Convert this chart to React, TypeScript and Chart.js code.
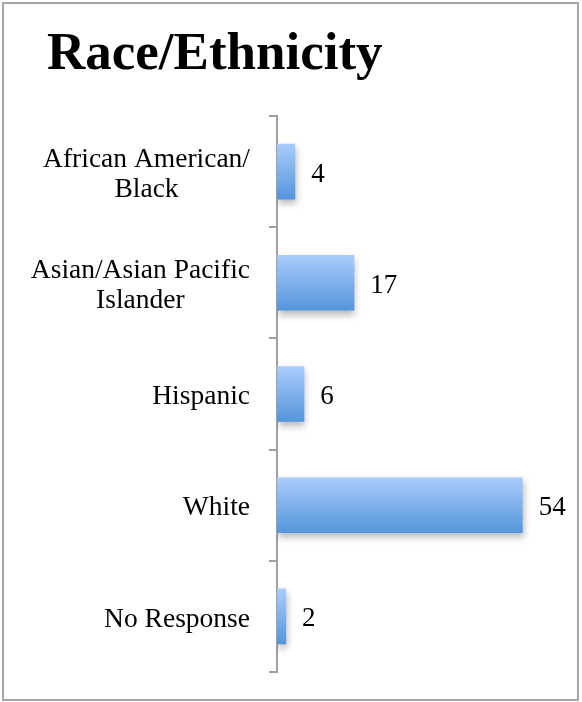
import React, { useEffect, useRef } from "react";
import { Chart, registerables } from "chart.js";

Chart.register(...registerables);

const TITLE = "Race/Ethnicity";
const categories: string[][] = [
  ["African American/", "Black"],
  ["Asian/Asian Pacific", "Islander"],
  ["Hispanic"],
  ["White"],
  ["No Response"],
];
const values = [4, 17, 6, 54, 2];
const X_MAX = 60;

const FONT = "'Liberation Serif', 'DejaVu Serif', serif";

const shadowPlugin = {
  id: "barShadow",
  beforeDatasetsDraw(chart: any) {
    const ctx = chart.ctx;
    ctx.save();
    ctx.shadowColor = "rgba(0,0,0,0.28)";
    ctx.shadowBlur = 7;
    ctx.shadowOffsetX = 1;
    ctx.shadowOffsetY = 4;
  },
  afterDatasetsDraw(chart: any) {
    chart.ctx.restore();
  },
};

const labelsPlugin = {
  id: "customLabels",
  afterDraw(chart: any) {
    const ctx = chart.ctx;
    const y = chart.scales.y;
    const meta = chart.getDatasetMeta(0);
    ctx.save();
    ctx.fillStyle = "#000";
    ctx.font = `27.5px ${FONT}`;
    ctx.textBaseline = "middle";
    const lineH = 30;
    const rightEdge = 250;
    categories.forEach((lines, i) => {
      const cy = y.getPixelForValue(i);
      const w = Math.max(...lines.map((l) => ctx.measureText(l).width));
      const cx = rightEdge - w / 2;
      ctx.textAlign = "center";
      lines.forEach((l, k) => {
        const ly = cy + (k - (lines.length - 1) / 2) * lineH + 3;
        ctx.fillText(l, cx, ly);
      });
    });
    ctx.textAlign = "left";
    ctx.font = `27px ${FONT}`;
    meta.data.forEach((bar: any, i: number) => {
      ctx.fillText(String(values[i]), bar.x + 16, bar.y + 3);
    });
    ctx.restore();
  },
};

export default function App() {
  const ref = useRef<HTMLCanvasElement | null>(null);
  useEffect(() => {
    if (!ref.current) return;
    const chart = new Chart(ref.current, {
      type: "bar",
      data: {
        labels: categories.map((c) => c.join(" ")),
        datasets: [
          {
            data: values,
            borderWidth: 0,
            categoryPercentage: 1,
            barPercentage: 0.5,
            backgroundColor: (context: any) => {
              const ch = context.chart;
              const ys = ch.scales && ch.scales.y;
              if (!ch.chartArea || !ys) return "#7aaee8";
              const cy = ys.getPixelForValue(context.dataIndex);
              const half = ys.getPixelForValue(1) - ys.getPixelForValue(0);
              const h = Math.abs(half) * 0.25;
              const g = ch.ctx.createLinearGradient(0, cy - h, 0, cy + h);
              g.addColorStop(0, "#a9cdfb");
              g.addColorStop(1, "#5595dc");
              return g;
            },
          },
        ],
      },
      options: {
        indexAxis: "y",
        animation: false,
        responsive: false,
        maintainAspectRatio: false,
        layout: { padding: { left: 47, right: 32, top: 0, bottom: 30 } },
        plugins: {
          legend: { display: false },
          tooltip: { enabled: false },
          title: {
            display: true,
            text: TITLE,
            align: "start",
            color: "#000",
            font: { family: FONT, size: 53, weight: "bold", lineHeight: 1.2 },
            padding: { top: 24, bottom: 28.4 },
          },
        },
        scales: {
          x: {
            display: false,
            min: 0,
            max: X_MAX,
          },
          y: {
            afterFit: (scale: any) => {
              scale.width = 277 - 47;
            },
            grid: {
              display: true,
              drawOnChartArea: false,
              drawTicks: true,
              tickLength: 8,
              offset: true,
              color: "#a0a0a0",
              lineWidth: 2,
            },
            border: { display: true, color: "#a0a0a0", width: 2 },
            ticks: { display: false },
          },
        },
      },
      plugins: [shadowPlugin, labelsPlugin],
    } as any);
    return () => chart.destroy();
  }, []);
  return (
    <div style={{ position: "fixed", left: 0, top: 0, width: 582, height: 702, background: "#fff" }}>
      <canvas ref={ref} width={582} height={702} style={{ position: "absolute", left: 0, top: 0, width: 582, height: 702 }} />
      <div
        style={{
          position: "absolute",
          left: 2,
          top: 2,
          width: 577,
          height: 699,
          boxSizing: "border-box",
          border: "2px solid #a6a6a6",
          pointerEvents: "none",
        }}
      />
    </div>
  );
}
